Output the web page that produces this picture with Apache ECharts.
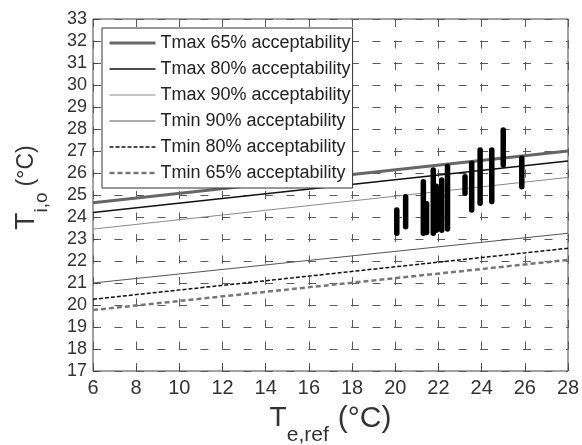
<!DOCTYPE html>
<html>
<head>
    <meta charset="utf-8">
    <title>ECharts</title>
    <script src="https://cdn.jsdelivr.net/npm/echarts@6/dist/echarts.min.js"></script>
    <style>
        html, body { margin: 0; padding: 0; background: #fff; }
        #main { width: 582px; height: 445px; }
    </style>
</head>
<body>
<div id="main"></div>
<script type="text/javascript">
    // end points of the comfort lines (x = Te,ref)
    var lineX = [6, 28];
    var tmax65 = [24.65, 27.0];
    var tmax80 = [24.2, 26.55];
    var tmax90 = [23.45, 25.8];
    var tmin90 = [21.0, 23.26];
    var tmin80 = [20.26, 22.58];
    var tmin65 = [19.77, 22.05];

    // measured Ti,o clusters: x, lowest and highest value
    var barX    = [20.07, 20.48, 21.3, 21.45, 21.76, 21.9, 22.15, 22.42, 23.23, 23.54, 23.93, 24.47, 25.0, 25.86];
    var barLow  = [23.26, 23.56, 23.26, 23.3, 23.26, 23.4, 23.4, 23.45, 25.08, 24.32, 24.62, 24.7, 26.36, 25.38];
    var barHigh = [24.32, 24.92, 25.6, 24.6, 26.14, 25.4, 25.68, 26.3, 25.83, 26.44, 27.05, 27.05, 27.95, 26.67];

    var legendNames = [
        'Tmax 65% acceptability',
        'Tmax 80% acceptability',
        'Tmax 90% acceptability',
        'Tmin 90% acceptability',
        'Tmin 80% acceptability',
        'Tmin 65% acceptability'
    ];

    // colour, width, dash of each comfort line
    var styles = [
        { color: '#666', width: 3, type: 'solid' },
        { color: '#111', width: 1.5, type: 'solid' },
        { color: '#8a8a8a', width: 1, type: 'solid' },
        { color: '#555', width: 1, type: 'solid' },
        { color: '#111', width: 1.5, type: [4, 2] },
        { color: '#777', width: 2.5, type: [5, 3] }
    ];

    function pairs(ys) {
        return lineX.map(function (x, i) { return [x, ys[i]]; });
    }

    function comfortLine(i, ys) {
        return {
            name: legendNames[i],
            type: 'line',
            data: pairs(ys),
            symbol: 'none',
            silent: true,
            z: 3,
            itemStyle: { color: styles[i].color },
            lineStyle: styles[i]
        };
    }

    var bars = barX.map(function (x, i) { return [x, barLow[i], barHigh[i]]; });

    var chart = echarts.init(document.getElementById('main'));
    var font = 'Liberation Sans, Arial, sans-serif';

    var option = {
        animation: false,
        backgroundColor: '#fff',
        textStyle: { fontFamily: font },
        grid: {
            left: 93, right: 14, top: 19, bottom: 74,
            show: true, borderColor: '#444', borderWidth: 1,
            outerBoundsMode: 'none'
        },
        legend: {
            data: legendNames.map(function (n, i) {
                return {
                    name: n,
                    itemStyle: { opacity: 0, borderWidth: 0 },
                    lineStyle: {
                        color: styles[i].color,
                        width: styles[i].width,
                        type: styles[i].type
                    }
                };
            }),
            orient: 'vertical',
            left: 102,
            top: 28,
            padding: [6, 2, 6, 6],
            itemWidth: 46,
            itemHeight: 16,
            itemGap: 8,
            backgroundColor: '#fff',
            borderColor: '#333',
            borderWidth: 1,
            borderRadius: 0,
            z: 10,
            selectedMode: false,
            textStyle: { fontSize: 18, color: '#222', fontFamily: font }
        },
        xAxis: {
            type: 'value',
            min: 6, max: 28, interval: 2,
            name: '{t|T}{s|e,ref}{u|(°C)}',
            nameLocation: 'middle',
            nameGap: 20,
            nameTextStyle: {
                rich: {
                    t: { fontSize: 28, color: '#333', fontFamily: font },
                    s: { fontSize: 21, color: '#333', fontFamily: font, padding: [34, 0, 0, 0] },
                    u: { fontSize: 30, color: '#333', fontFamily: font, padding: [0, 0, 0, 9] }
                }
            },
            axisLine: { show: false },
            axisTick: { inside: true, length: 5, lineStyle: { color: '#444' } },
            axisLabel: { fontSize: 20, color: '#333', margin: 7, fontFamily: font },
            splitLine: { lineStyle: { color: '#5a5a5a', width: 1, type: [8, 13.5], dashOffset: 0 } }
        },
        yAxis: {
            type: 'value',
            min: 17, max: 33, interval: 1,
            name: '{t|T}{s|i,o}{u|(°C)}',
            nameLocation: 'middle',
            nameGap: 42,
            nameTextStyle: {
                rich: {
                    t: { fontSize: 28, color: '#333', fontFamily: font, padding: [0, 0, 0, 15] },
                    s: { fontSize: 19, color: '#333', fontFamily: font, padding: [30, 0, 0, 0] },
                    u: { fontSize: 23, color: '#333', fontFamily: font, padding: [0, 0, 0, 6] }
                }
            },
            axisLine: { show: false },
            axisTick: { inside: true, length: 5, lineStyle: { color: '#444' } },
            axisLabel: { fontSize: 18, color: '#333', margin: 6, fontFamily: font },
            splitLine: { lineStyle: { color: '#5a5a5a', width: 1, type: [8, 13.5], dashOffset: 0 } }
        },
        series: [
            comfortLine(0, tmax65),
            comfortLine(1, tmax80),
            comfortLine(2, tmax90),
            comfortLine(3, tmin90),
            comfortLine(4, tmin80),
            comfortLine(5, tmin65),
            {
                name: 'measured',
                type: 'custom',
                data: bars,
                z: 4,
                silent: true,
                encode: { x: 0, y: [1, 2] },
                renderItem: function (params, api) {
                    var p1 = api.coord([api.value(0), api.value(1)]);
                    var p2 = api.coord([api.value(0), api.value(2)]);
                    return {
                        type: 'line',
                        shape: { x1: p1[0], y1: p1[1], x2: p2[0], y2: p2[1] },
                        style: { stroke: '#000', lineWidth: 5.5, lineCap: 'round' }
                    };
                }
            }
        ]
    };

    chart.setOption(option);
</script>
</body>
</html>
